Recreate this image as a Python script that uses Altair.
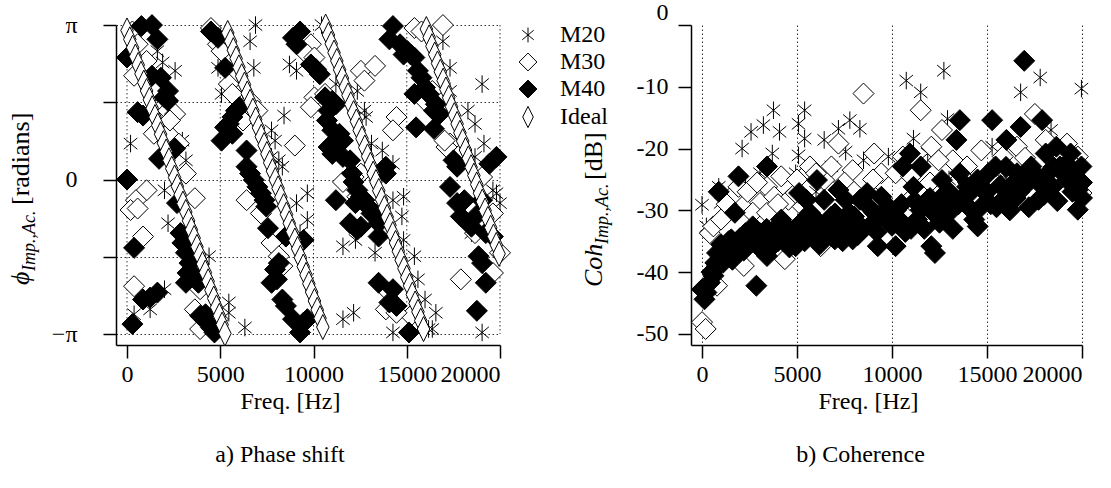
import math
import altair as alt
import pandas as pd

PI = math.pi
SERIES = ["M20", "M30", "M40", "Ideal"]

# ---------------- phase panel data (freq Hz, phase rad) ----------------
left_m20 = [
    (190, 0.73), (1630, 2.61), (1910, 2.38), (2580, 2.21), (2010, -0.22), (2200, -0.89), (2970, 0.79),
    (3160, 0.39), (4400, -1.56), (2010, -2.23), (1240, -2.64), (380, -2.74), (5460, -2.50), (6320, -3.01),
    (5460, -2.71), (4980, 2.91), (4880, 2.27), (6600, 2.81), (6890, 3.14), (6800, 2.27), (5070, 1.74),
    (8420, 1.30), (7750, 1.00), (7940, 0.79), (8140, 0.39), (8330, 0.26), (9090, -0.48), (9670, -0.28),
    (9670, -0.82), (9280, -1.09), (7750, 0.46), (10430, 3.14), (9090, 2.21), (8710, 2.34), (11200, 1.94),
    (12350, 1.80), (12730, 1.40), (12820, 1.27), (13110, 0.73), (13690, 0.59), (14260, 0.32), (14830, -0.35),
    (14740, -0.75), (14830, -1.23), (14260, -0.42), (13300, -1.49), (11580, -1.36), (12250, -1.23),
    (11580, -2.84), (12150, -2.71), (14260, -3.11), (15600, -2.03), (15980, -2.44), (15410, -1.56),
    (16560, -2.71), (16370, -3.04), (16940, 2.81), (17320, 2.27), (17320, 1.80), (18280, 1.40), (18660, 1.13),
    (19140, 0.73), (18660, 0.46), (19810, -0.28), (20000, -0.48), (19620, -0.22), (18470, -1.09),
    (19040, 1.94), (19040, -3.11), (16170, -3.04),
]
left_m30 = [
    (290, 3.01), (570, 2.75), (380, 2.11), (1050, 2.41), (1630, 1.80), (2200, 1.40), (2580, 1.33), (1440, 0.93),
    (2200, 0.93), (2780, 0.73), (3160, 0.12), (3640, -0.38), (1050, -0.22), (480, -0.42), (190, -0.62),
    (570, -0.59), (860, -1.16), (380, -2.17), (3920, -2.23), (3640, -2.64), (3920, -3.04), (4880, -2.84),
    (2300, 1.20), (4500, 3.08), (4880, 2.75), (5070, 2.61), (5460, 1.94), (5650, 1.74), (6600, 1.60),
    (6990, 1.40), (6220, 1.20), (6410, -0.42), (7180, -0.69), (9000, 0.69), (7750, -1.29), (8140, -1.56),
    (8330, -1.76), (9860, 2.75), (9670, 2.54), (10050, 2.48), (12540, 2.21), (13300, 2.31), (12730, 2.01),
    (10050, 1.67), (10620, 1.74), (9860, 1.47), (12540, 0.12), (12150, 0.05), (11580, -0.05), (12350, -0.35),
    (14450, 1.27), (14260, 1.00), (14070, -2.30), (15220, -2.77), (13880, -2.64), (14450, -2.71),
    (15410, 3.08), (15790, 3.01), (16940, 3.14), (15980, 1.60), (16370, 1.80), (17320, 0.73), (17130, 0.66),
    (19040, 0.05), (19620, -0.69), (20000, -1.49), (18660, -1.09), (17900, -2.03), (19620, -1.90), (17030, 0.79),
]
left_m40 = [
    (770, 3.12), (1340, 3.14), (1630, 2.85), (0, 2.48), (1340, 2.11), (2200, 1.80), (2200, 1.60), (2010, 1.67),
    (570, 1.37), (860, 1.30), (1720, 0.42), (2580, 0.63), (0, 0.00), (2680, -0.48), (2870, -1.09), (2970, -1.29),
    (3160, -1.49), (3350, -1.70), (3250, -1.90), (3640, -1.96), (3830, -2.10), (3160, -2.10), (380, -1.39),
    (860, -2.44), (1240, -2.40), (1630, -2.30), (290, -2.94), (4210, -2.74), (4310, -2.91), (4690, -3.11),
    (4500, -3.01), (3920, -2.77), (1820, 2.07),
    (4500, 3.01), (4880, 2.88), (5260, 2.27), (5840, 1.40), (5650, 1.27), (5460, 1.13), (5260, 1.06),
    (5070, 0.79), (5650, 0.93), (6030, 1.47), (6410, 0.59), (6410, 0.26), (6600, 0.12), (6800, -0.01),
    (6990, -0.15), (7180, -0.28), (7370, -0.42), (7470, -0.55), (7560, -0.99), (8140, -1.70), (7940, -1.83),
    (7750, -2.10), (8330, -2.44), (8520, -2.57), (8900, -2.84), (9280, -3.11), (9470, -2.91), (9670, -2.84),
    (8520, -1.16), (9470, -1.23), (8900, 2.88), (9090, 2.75), (9280, 3.01), (8040, -2.03),
    (9860, 2.34), (10140, 2.24), (10340, 2.14), (10620, 1.67), (11010, 1.60), (11200, 1.53), (10810, 1.40),
    (10720, 1.20), (11010, 1.00), (11390, 0.93), (11580, 0.79), (11200, 0.73), (10810, 0.66), (11010, 0.52),
    (11580, 0.46), (11960, 0.39), (12060, 0.12), (12150, -0.05), (12350, -0.22), (12540, -0.35),
    (12730, -0.42), (12920, -0.55), (13110, -0.69), (13300, -0.75), (13490, -0.89), (13880, 0.12),
    (13880, 0.26), (11200, -0.42), (12250, -0.48), (11960, -0.89), (12350, -1.02), (12540, -0.96),
    (13490, -1.16), (13490, -2.10), (14260, -2.23), (14450, -2.57), (15120, -3.11), (14070, -2.50),
    (14260, 3.12), (14070, 2.85), (14640, 2.75), (15030, 2.61), (15410, 2.48), (15220, 2.54), (14830, 2.54),
    (15600, 2.21), (15790, 2.07), (15980, 1.87), (16170, 1.74), (16560, 1.53), (16460, 1.40), (16750, 1.33),
    (15410, 1.74), (15500, 1.06), (16460, 1.03), (17510, 0.39), (17700, 0.26), (17320, -0.15), (17700, -0.48),
    (18090, -0.42), (17900, -0.75), (18850, -0.69), (18470, -0.96), (19240, -1.09), (19620, -1.16),
    (18850, -1.56), (19040, -1.70), (19240, -2.10), (18760, -2.67), (19810, 0.46), (19430, 0.32), (19040, -0.42),
]
ideal_f = [
    0, 150, 300, 450, 600, 750, 900, 1050, 1200, 1350, 1500, 1650, 1800, 1950, 2100, 2250, 2400, 2550,
    2700, 2850, 3000, 3150, 3300, 3450, 3600, 3750, 3900, 4050, 4200, 4350, 4500, 4650, 4800, 4950, 5100, 5250,
    5400, 5550, 5700, 5850, 6000, 6150, 6300, 6450, 6600, 6750, 6900, 7050, 7200, 7350, 7500, 7650, 7800,
    7950, 8100, 8250, 8400, 8550, 8700, 8850, 9000, 9150, 9300, 9450, 9600, 9750, 9900, 10050, 10200, 10350,
    10500, 10650, 10800, 10950, 11100, 11250, 11400, 11550, 11700, 11850, 12000, 12150, 12300, 12450, 12600,
    12750, 12900, 13050, 13200, 13350, 13500, 13650, 13800, 13950, 14100, 14250, 14400, 14550, 14700, 14850,
    15000, 15150, 15300, 15450, 15600, 15750, 15900, 16050, 16200, 16350, 16500, 16650, 16800, 16950, 17100,
    17250, 17400, 17550, 17700, 17850, 18000, 18150, 18300, 18450, 18600, 18750, 18900, 19050, 19200, 19350,
    19500, 19650, 19800, 19950,
]
ideal_phase = [
    3.03, 2.85, 2.68, 2.50, 2.33, 2.15, 1.97, 1.80, 1.62, 1.45, 1.27, 1.10, 0.92, 0.74, 0.57, 0.39, 0.22, 0.04,
    -0.14, -0.31, -0.49, -0.66, -0.84, -1.02, -1.19, -1.37, -1.54, -1.72, -1.89, -2.07, -2.25, -2.42, -2.60,
    -2.77, -2.95, -3.13,
    2.98, 2.81, 2.63, 2.46, 2.28, 2.10, 1.93, 1.75, 1.58, 1.40, 1.22, 1.05, 0.87, 0.70, 0.52, 0.34, 0.17, -0.01,
    -0.18, -0.36, -0.54, -0.71, -0.89, -1.06, -1.24, -1.41, -1.59, -1.77, -1.94, -2.12, -2.29, -2.47, -2.65,
    -2.82, -3.00,
    3.11, 2.94, 2.76, 2.58, 2.41, 2.23, 2.06, 1.88, 1.71, 1.53, 1.35, 1.18, 1.00, 0.83, 0.65, 0.47, 0.30, 0.12,
    -0.05, -0.23, -0.41, -0.58, -0.76, -0.93, -1.11, -1.29, -1.46, -1.64, -1.81, -1.99, -2.16, -2.34, -2.52,
    -2.69, -2.87, -3.04,
    3.06, 2.89, 2.71, 2.54, 2.36, 2.19, 2.01, 1.83, 1.66, 1.48, 1.31, 1.13, 0.95, 0.78, 0.60, 0.43, 0.25, 0.08,
    -0.10, -0.28, -0.45, -0.63, -0.80, -0.98, -1.16, -1.33, -1.51,
]

# ---------------- coherence panel data (freq Hz, dB) ----------------
right_m20 = [
    (0, -29.1), (230, -32.6), (880, -26.2), (2110, -20.0), (2580, -17.3), (3230, -16.2), (3760, -13.8),
    (4080, -17.3), (3700, -20.8), (2290, -26.2), (4930, -24.0), (5080, -16.0), (5400, -13.8), (5400, -18.4),
    (5080, -21.1), (6430, -18.6), (7180, -16.8), (7560, -20.5), (7780, -15.4), (8310, -16.8), (8500, -21.9),
    (9810, -21.3), (10750, -9.0), (11510, -10.9), (11130, -18.4), (12730, -7.4), (12920, -15.2),
    (11880, -20.8), (15270, -19.7), (16770, -10.9), (17800, -8.5), (18370, -17.0), (19970, -10.3),
    (6810, -22.9), (3050, -24.0), (980, -28.8), (3800, -28.3), (1500, -30.0), (6000, -27.0), (9000, -26.0),
    (13000, -25.0), (16000, -25.0), (18800, -22.0),
]
right_m30 = [
    (0, -48.1), (190, -49.2), (410, -33.7), (600, -32.6), (790, -42.2), (2200, -39.0), (4360, -37.9),
    (3050, -28.8), (3420, -26.2), (3800, -27.8), (4170, -24.5), (4550, -28.3), (4930, -27.2), (5680, -22.9),
    (6430, -25.1), (7180, -19.2), (7930, -23.5), (8500, -11.1), (9060, -20.8), (9440, -24.0), (10190, -24.0),
    (11510, -13.8), (12070, -19.7), (12630, -17.0), (13200, -21.9), (13950, -22.9), (14700, -20.3),
    (15080, -24.5), (15830, -21.3), (16580, -19.7), (17520, -14.4), (18090, -18.6), (18840, -22.9),
    (19210, -19.2), (19780, -21.3), (19970, -27.2), (1540, -27.8), (1920, -26.2), (2670, -30.4), (3420, -30.4),
    (5300, -29.4), (6240, -35.8), (6810, -22.9), (10940, -28.3), (13760, -27.8), (15830, -26.2),
    (17150, -24.0), (18460, -21.3), (12450, -21.9), (10570, -21.3), (1000, -31.5), (1300, -29.0),
    (2400, -27.0), (2900, -25.5), (4000, -29.0), (5000, -25.0), (6000, -24.0), (7500, -25.5), (8000, -27.0),
    (9000, -25.0), (11000, -24.5), (12000, -25.5), (14000, -25.5), (16000, -23.0), (17000, -21.5),
    (18500, -24.0), (19500, -22.5),
]
right_m40 = [
    (0, -42.8), (130, -44.4), (230, -43.3), (410, -41.7), (600, -40.6), (790, -39.0), (980, -37.9), (790, -36.9),
    (1350, -37.4), (1540, -34.7), (1730, -30.4), (1920, -24.5), (880, -27.0), (2290, -33.7), (2670, -32.6),
    (2860, -42.2), (3420, -22.9), (3420, -37.4), (3050, -33.7), (3800, -33.1), (4170, -31.5), (4550, -33.7),
    (4930, -35.8), (5110, -27.2), (5490, -28.3), (5680, -30.4), (6050, -33.7), (6050, -25.1), (6430, -28.3),
    (6810, -31.0), (6990, -34.7), (7180, -26.7), (7560, -28.3), (7750, -30.4), (7930, -34.7), (8310, -28.3),
    (8690, -27.2), (9060, -30.4), (9250, -35.8), (9440, -27.8), (9810, -29.4), (10190, -35.8), (10380, -31.5),
    (10570, -22.9), (10940, -20.8), (11130, -26.2), (11320, -31.5), (11510, -22.9), (11880, -28.3),
    (12070, -35.8), (12450, -30.4), (12630, -25.1), (12820, -27.2), (13200, -28.9), (13390, -18.6),
    (13570, -15.4), (13570, -24.0), (13950, -26.2), (14330, -31.5), (14700, -29.4), (15080, -24.0),
    (15270, -15.4), (15450, -22.9), (15830, -28.3), (16020, -18.6), (16210, -26.2), (16580, -24.0),
    (16770, -16.5), (16960, -5.8), (16960, -26.2), (17330, -22.9), (17710, -28.3), (17900, -15.4),
    (18090, -20.8), (18460, -26.2), (18650, -19.7), (18840, -22.9), (19210, -25.1), (19400, -20.8),
    (19590, -24.0), (19780, -29.9), (19970, -22.9), (19780, -26.7), (12260, -36.9), (14510, -32.6),
    (13010, -30.4), (2000, -34.5), (2400, -35.5), (2800, -33.0), (3200, -35.0), (3600, -34.0), (4000, -35.0),
    (4400, -32.5), (4800, -34.0), (5200, -32.0), (5600, -33.5), (6000, -31.5), (6400, -34.0), (7200, -32.0),
    (7600, -33.5), (8000, -31.0), (8500, -33.0), (9000, -32.0), (9500, -30.5), (10000, -32.5), (10500, -29.0),
    (11000, -33.0), (11500, -30.0), (12000, -28.0), (12500, -32.0), (13000, -27.0), (13500, -29.0),
    (14000, -27.5), (14500, -25.0), (15000, -27.0), (15500, -29.5), (16000, -23.0), (16500, -28.0),
    (17000, -25.0), (17500, -24.0), (18000, -27.5), (18500, -23.0), (19000, -24.0), (19500, -27.0),
    (20000, -25.5), (1200, -36.0), (1600, -38.0), (300, -42.0), (700, -38.5), (1000, -35.5),
    (500, -40.0), (1100, -38.5), (1400, -35.0), (1800, -36.0), (2200, -36.5), (2600, -34.5), (3000, -36.0),
    (3400, -33.0), (3800, -35.5), (4200, -34.0), (4600, -36.0), (5000, -33.0), (5400, -35.0), (5800, -32.0),
    (6200, -35.5), (6600, -32.5), (7000, -30.5), (7400, -35.0), (7800, -32.0), (8200, -34.0), (8800, -29.5),
    (9200, -33.5), (9700, -31.5), (10200, -30.0), (10700, -33.5), (11200, -28.5), (11700, -33.0),
    (12200, -30.5), (12700, -29.0), (13200, -33.0), (13700, -28.0), (14200, -30.0), (14700, -26.5),
    (15200, -29.0), (15700, -26.0), (16200, -30.0), (16700, -27.0), (17200, -29.5), (17700, -25.5),
    (18200, -24.0), (18700, -28.5), (19200, -22.5), (19700, -25.0), (20000, -28.0),
]

freq_ticks = [0, 5000, 10000, 15000, 20000]
phase_ticks = [-PI, -PI / 2, 0, PI / 2, PI]
db_ticks = [-50, -40, -30, -20, -10, 0]

# ---------------- styling ----------------
FONT = "Liberation Serif"
FS = 24
AST = "M0,-0.7L0,0.7M-0.54,-0.45L0.54,0.45M-0.54,0.45L0.54,-0.45"
DIA = "M0,-0.84L0.84,0L0,0.84L-0.84,0Z"
IDEAL = "M0,-1L0.5,0L0,1L-0.5,0Z"
DOT = [1.5, 2.5]


def rows(pairs, name):
    return [{"f": a, "v": b, "series": name} for a, b in pairs]


left_df = pd.DataFrame(
    rows(left_m20, "M20") + rows(left_m30, "M30") + rows(left_m40, "M40")
    + rows(list(zip(ideal_f, ideal_phase)), "Ideal")
)
right_df = pd.DataFrame(rows(right_m20, "M20") + rows(right_m30, "M30") + rows(right_m40, "M40"))

legend = alt.Legend(
    title=None, orient="none", legendX=400, legendY=-2, padding=0,
    labelFont=FONT, labelFontSize=FS, labelColor="black", labelOffset=20,
    symbolSize=450, symbolStrokeColor="black", symbolStrokeWidth=1, rowPadding=3,
)


def style_enc(show_legend):
    lg = legend if show_legend else None
    return dict(
        shape=alt.Shape("series:N", scale=alt.Scale(domain=SERIES, range=[AST, DIA, DIA, IDEAL]), legend=lg),
        fill=alt.Fill("series:N", scale=alt.Scale(domain=SERIES, range=["white", "white", "black", "white"]),
                      legend=lg),
        stroke=alt.Stroke("series:N", scale=alt.Scale(domain=SERIES, range=["black", "black", "black", "black"]),
                          legend=lg),
    )


def text_layer(txt, x, y, size, italic=False):
    return alt.Chart(pd.DataFrame({"t": [txt]})).mark_text(
        angle=270, align="left", baseline="alphabetic", font=FONT, fontSize=size,
        fontStyle="italic" if italic else "normal", color="black",
    ).encode(text="t:N", x=alt.value(x), y=alt.value(y))


# ---------------- left: phase ----------------
XL = alt.X(
    "f:Q",
    scale=alt.Scale(domain=[-590, 20000], nice=False, zero=False),
    axis=alt.Axis(values=freq_ticks, format="d", title="Freq. [Hz]", titleX=174,
                  titlePadding=3, labelPadding=4, grid=False),
)
YL = alt.Y(
    "v:Q",
    scale=alt.Scale(domain=[-3.365, PI], nice=False, zero=False),
    axis=alt.Axis(
        values=phase_ticks, title=None, grid=True, gridDash=DOT, gridColor="black", gridWidth=0.8,
        labelPadding=26,
        labelExpr="datum.value > 3 ? 'π' : (datum.value < -3 ? '−π' : (abs(datum.value) < 0.01 ? '0' : ''))",
    ),
)
vgrid_left = alt.Chart(pd.DataFrame({"f": freq_ticks})).mark_rule(
    strokeDash=DOT, color="black", strokeWidth=0.8
).encode(x=XL, y=alt.datum(PI), y2=alt.datum(-PI))

pts_left = alt.Chart(left_df).mark_point(
    size=625, strokeWidth=1, opacity=1, filled=True
).encode(x=XL, y=YL, **style_enc(True))

left = alt.layer(
    vgrid_left, pts_left,
    text_layer("ϕ", -87, 260, 26, True),
    text_layer("Imp.,Ac.", -81, 246, 18, True),
    text_layer("[radians]", -87, 180, 26),
).properties(
    width=384, height=320,
    title=alt.TitleParams("a) Phase shift", orient="bottom", anchor="middle", dx=-28, offset=30,
                          font=FONT, fontSize=FS, fontWeight="normal", color="black"),
)

# ---------------- right: coherence ----------------
XR = alt.X(
    "f:Q",
    scale=alt.Scale(domain=[-580, 20000], nice=False, zero=False),
    axis=alt.Axis(values=freq_ticks, format="d", title="Freq. [Hz]", titleX=177, titlePadding=3,
                  labelPadding=4, grid=True, gridDash=DOT, gridColor="black", gridWidth=0.8),
)
YR = alt.Y(
    "v:Q",
    scale=alt.Scale(domain=[-51.8, 0], nice=False, zero=False),
    axis=alt.Axis(
        values=db_ticks, title=None, grid=False, labelPadding=10,
        labelExpr="'' + datum.value",
        labelOffset={"condition": {"test": "datum.value === 0", "value": -13}, "value": 0},
    ),
)
pts_right = alt.Chart(right_df).mark_point(
    size=625, strokeWidth=1, opacity=1, filled=True
).encode(x=XR, y=YR, **style_enc(False))

right = alt.layer(
    pts_right,
    text_layer("Coh", -89, 262, 26, True),
    text_layer("Imp.,Ac.", -83, 219, 18, True),
    text_layer("[dB]", -89, 155, 26),
).properties(
    width=391, height=320,
    title=alt.TitleParams("b) Coherence", orient="bottom", anchor="middle", dx=-26, offset=30,
                          font=FONT, fontSize=FS, fontWeight="normal", color="black"),
)

chart = alt.hconcat(left, right, spacing=191, bounds="flush").properties(
    padding={"left": 8, "top": 0, "right": 5, "bottom": 5}
).configure_view(stroke=None).configure_axis(
    labelFont=FONT, labelFontSize=FS, labelColor="black",
    titleFont=FONT, titleFontSize=FS, titleColor="black", titleFontWeight="normal",
    domainColor="black", domainWidth=1.5, tickColor="black", tickWidth=1.5, tickSize=13,
)

chart.save("out.html", embed_options={"renderer": "svg", "actions": False})
